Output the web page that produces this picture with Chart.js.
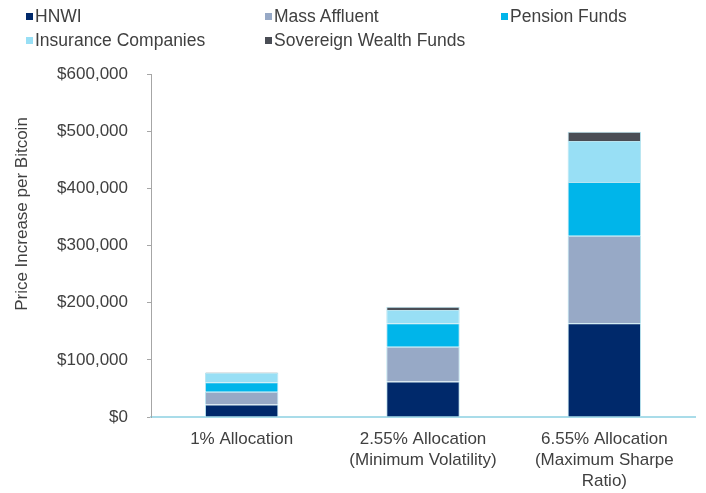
<!DOCTYPE html>
<html>
<head>
<meta charset="utf-8">
<script src="https://cdn.jsdelivr.net/npm/chart.js@4.4.1/dist/chart.umd.min.js"></script>
<style>
  body { margin: 0; background: #fff; }
  #wrap { position: relative; width: 706px; height: 493px; }
  #legend {
    position: absolute; left: 26px; top: 6px;
    display: grid; grid-template-columns: 239px 236px auto; row-gap: 3px;
    font: 17.5px "Liberation Sans", Arial, sans-serif; color: #404040;
  }
  #legend div { display: flex; align-items: center; height: 21px; white-space: nowrap; }
  #legend span { display: inline-block; width: 7px; height: 7px; margin-right: 2px; }
</style>
</head>
<body>
<div id="wrap">
  <canvas id="chart" width="706" height="493"></canvas>
  <div id="legend"></div>
</div>
<script>
const categories = [
  ['1% Allocation'],
  ['2.55% Allocation', '(Minimum Volatility)'],
  ['6.55% Allocation', '(Maximum Sharpe', 'Ratio)']
];
const seriesNames = ['HNWI', 'Mass Affluent', 'Pension Funds', 'Insurance Companies', 'Sovereign Wealth Funds'];
const hnwi = [22000, 62000, 164000];
const massAffluent = [22000, 61000, 153000];
const pensionFunds = [17000, 41000, 94000];
const insurance = [16000, 23000, 72000];
const sovereign = [1000, 6000, 16000];
const yTicks = [0, 100000, 200000, 300000, 400000, 500000, 600000];

const colors = ['#00296b', '#97a9c6', '#00b5ea', '#98dff5', '#4a4d55'];
const values = [hnwi, massAffluent, pensionFunds, insurance, sovereign];

Chart.defaults.font.family = '"Liberation Sans", Arial, sans-serif';
Chart.defaults.font.size = 17;
Chart.defaults.color = '#404040';

// rotated axis caption, sits a little above the middle of the axis
const yCaption = {
  id: 'yCaption',
  afterDraw(chart) {
    const ctx = chart.ctx;
    ctx.save();
    ctx.translate(22, 214);
    ctx.rotate(-Math.PI / 2);
    ctx.font = '17px "Liberation Sans", Arial, sans-serif';
    ctx.fillStyle = '#404040';
    ctx.textAlign = 'center';
    ctx.textBaseline = 'middle';
    ctx.fillText('Price Increase per Bitcoin', 0, 0);
    ctx.restore();
  }
};

const chart = new Chart(document.getElementById('chart'), {
  type: 'bar',
  data: {
    labels: categories,
    datasets: seriesNames.map((name, i) => ({
      label: name,
      data: values[i],
      backgroundColor: colors[i],
      borderColor: '#b8e4f0',
      borderWidth: 1,
      categoryPercentage: 1,
      barPercentage: 0.405
    }))
  },
  options: {
    responsive: false,
    animation: false,
    layout: { padding: { top: 74, right: 11, left: 0, bottom: 0 } },
    plugins: { legend: { display: false }, tooltip: { enabled: false } },
    scales: {
      x: {
        stacked: true,
        grid: { display: false },
        border: { display: true, color: '#a9dce9', width: 2 },
        ticks: { padding: 4, maxRotation: 0, font: { size: 17, lineHeight: 1.235 } },
        afterFit: (s) => { s.height = 76; }
      },
      y: {
        stacked: true,
        min: 0,
        max: 600000,
        afterBuildTicks: (s) => { s.ticks = yTicks.map(v => ({ value: v })); },
        grid: { display: true, drawOnChartArea: false, drawTicks: true, tickLength: 4, color: '#a6a6a6' },
        border: { display: true, color: '#a6a6a6', width: 1 },
        ticks: {
          padding: 19,
          callback: (v) => '$' + v.toLocaleString('en-US')
        },
        afterFit: (s) => { s.width = 151; }
      }
    }
  },
  plugins: [yCaption]
});

const legend = document.getElementById('legend');
chart.data.datasets.forEach((ds) => {
  const item = document.createElement('div');
  const box = document.createElement('span');
  box.style.background = ds.backgroundColor;
  item.appendChild(box);
  item.appendChild(document.createTextNode(ds.label));
  legend.appendChild(item);
});
</script>
</body>
</html>
